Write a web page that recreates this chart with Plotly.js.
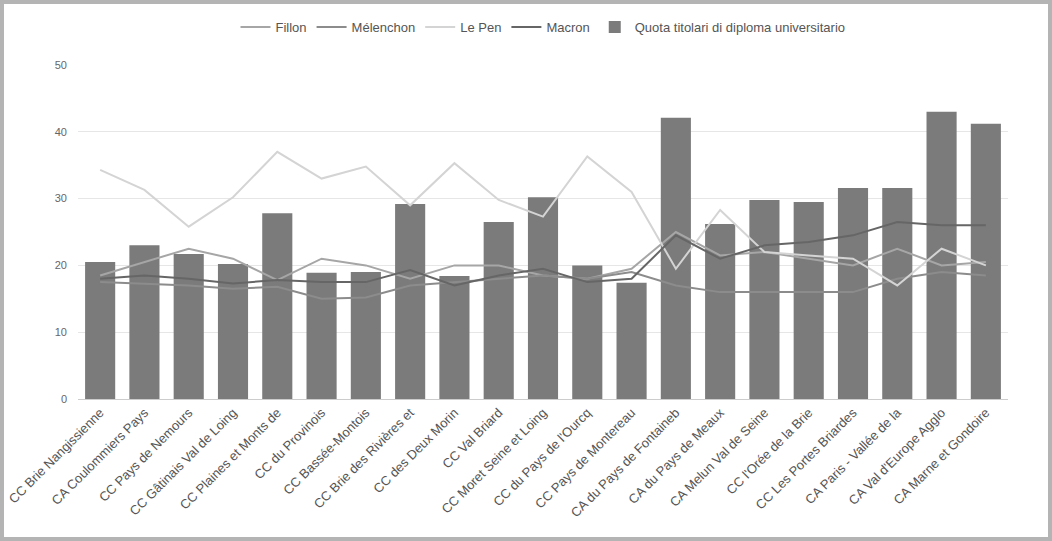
<!DOCTYPE html>
<html>
<head>
<meta charset="utf-8">
<script src="https://cdn.plot.ly/plotly-3.0.1.min.js"></script>
<style>
html,body{margin:0;padding:0;background:#fff;}
#frame{width:1052px;height:541px;box-sizing:border-box;border:4px solid #b4b4b4;background:#fff;}
#chart{width:1044px;height:533px;}
</style>
</head>
<body>
<div id="frame"><div id="chart"></div></div>
<script>
const categories = [
  "CC Brie Nangissienne",
  "CA Coulommiers Pays de Brie",
  "CC Pays de Nemours",
  "CC Gâtinais Val de Loing",
  "CC Plaines et Monts de France",
  "CC du Provinois",
  "CC Bassée-Montois",
  "CC Brie des Rivières et Châteaux",
  "CC des Deux Morin",
  "CC Val Briard",
  "CC Moret Seine et Loing",
  "CC du Pays de l'Ourcq",
  "CC Pays de Montereau",
  "CA du Pays de Fontainebleau",
  "CA du Pays de Meaux",
  "CA Melun Val de Seine",
  "CC l'Orée de la Brie",
  "CC Les Portes Briardes",
  "CA Paris - Vallée de la Marne",
  "CA Val d'Europe Agglo",
  "CA Marne et Gondoire"
];
const tickLabels = [
  "CC Brie Nangissienne",
  "CA Coulommiers Pays",
  "CC Pays de Nemours",
  "CC Gâtinais Val de Loing",
  "CC Plaines et Monts de",
  "CC du Provinois",
  "CC Bassée-Montois",
  "CC Brie des Rivières et",
  "CC des Deux Morin",
  "CC Val Briard",
  "CC Moret Seine et Loing",
  "CC du Pays de l'Ourcq",
  "CC Pays de Montereau",
  "CA du Pays de Fontaineb",
  "CA du Pays de Meaux",
  "CA Melun Val de Seine",
  "CC l'Orée de la Brie",
  "CC Les Portes Briardes",
  "CA Paris - Vallée de la",
  "CA Val d'Europe Agglo",
  "CA Marne et Gondoire"
];
const laureati  = [20.5, 23.0, 21.7, 20.2, 27.8, 18.9, 19.0, 29.2, 18.4, 26.5, 30.2, 20.0, 17.4, 42.1, 26.2, 29.8, 29.5, 31.6, 31.6, 43.0, 41.2];
const fillon    = [18.5, 20.5, 22.5, 21.0, 17.8, 21.0, 20.0, 18.0, 20.0, 20.0, 18.5, 18.0, 19.5, 25.0, 21.5, 22.0, 21.0, 20.0, 22.5, 20.0, 20.5];
const melenchon = [17.5, 17.3, 17.0, 16.5, 16.8, 15.0, 15.2, 17.0, 17.5, 18.0, 18.5, 18.0, 19.0, 17.0, 16.0, 16.0, 16.0, 16.0, 18.0, 19.0, 18.5];
const lepen     = [34.3, 31.3, 25.8, 30.2, 37.0, 33.0, 34.8, 29.0, 35.3, 29.8, 27.3, 36.3, 31.0, 19.5, 28.3, 22.0, 21.5, 21.0, 17.0, 22.5, 20.0];
const macron    = [18.0, 18.5, 18.0, 17.3, 17.8, 17.5, 17.5, 19.3, 17.0, 18.5, 19.5, 17.5, 18.0, 24.5, 21.0, 23.0, 23.5, 24.5, 26.5, 26.0, 26.0];

const lineTrace = (name, y, color) => ({
  type: 'scatter', mode: 'lines', name: name, x: categories, y: y,
  line: {color: color, width: 2}
});

const data = [
  lineTrace('Fillon', fillon, '#a6a6a6'),
  lineTrace('Mélenchon', melenchon, '#8c8c8c'),
  lineTrace('Le Pen', lepen, '#d4d4d4'),
  lineTrace('Macron', macron, '#666666'),
  {type: 'bar', name: 'Quota titolari di diploma universitario', x: categories, y: laureati,
   marker: {color: '#7b7b7b'}}
];

const layout = {
  width: 1044, height: 533,
  margin: {l: 74, r: 40, t: 61, b: 138},
  paper_bgcolor: '#fff', plot_bgcolor: '#fff',
  font: {family: 'Liberation Sans, Arial, sans-serif', size: 12, color: '#555'},
  bargap: 0.32,
  showlegend: true,
  legend: {orientation: 'h', x: 0.5, xanchor: 'center', y: 0.985, yanchor: 'top',
           yref: 'container', font: {size: 13, color: '#555'}, traceorder: 'normal'},
  xaxis: {tickangle: -45, tickfont: {size: 13, color: '#555'}, showgrid: false,
          tickmode: 'array', tickvals: categories, ticktext: tickLabels,
          showline: true, linecolor: '#cccccc', linewidth: 1, automargin: false},
  yaxis: {range: [0, 50], dtick: 10, gridcolor: '#e6e6e6', zeroline: false,
          tickfont: {size: 11, color: '#666'}, ticks: '', ticklabelstandoff: 10, automargin: false}
};

Plotly.newPlot('chart', data, layout, {displayModeBar: false, staticPlot: true});
</script>
</body>
</html>
